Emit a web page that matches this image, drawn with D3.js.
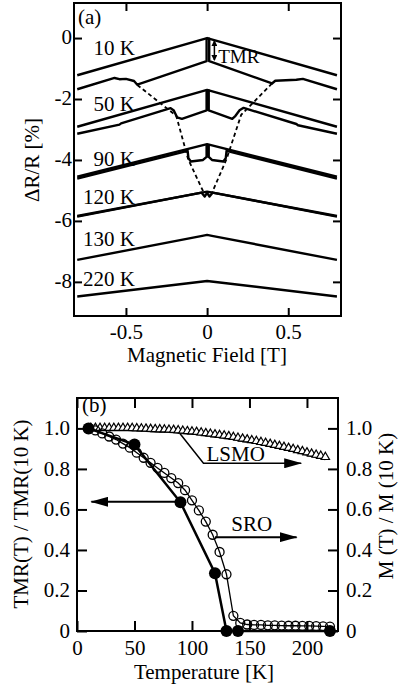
<!DOCTYPE html>
<html lang="en">
<head>
  <meta charset="UTF-8">
  <title>TMR vs field and temperature</title>
  <style>
    body { margin: 0; background: #fff; }
    svg { display: block; }
    text { font-family: "Liberation Serif", "Times New Roman", serif; fill: #000; }
  </style>
</head>
<body>
<script src="https://cdn.jsdelivr.net/npm/d3@7/dist/d3.min.js"></script>
<script>
// ---- panel (a) data: [field (T), dR/R (%)] ----
const up10 = [[-0.80,-1.22],[0,0],[0.80,-1.22]];
const lo10 = [[-0.80,-1.68],[-0.57,-1.31],[-0.54,-1.35],[-0.50,-1.34],[-0.45,-1.41],[-0.43,-1.53],
              [-0.003,-0.76],[-0.003,-0.02],[0.013,-0.02],[0.013,-0.76],
              [0.40,-1.49],[0.42,-1.40],[0.55,-1.37],[0.59,-1.34],[0.80,-1.68]];
const up50 = [[-0.80,-2.91],[0,-1.70],[0.80,-2.91]];
const lo50 = [[-0.80,-3.14],[-0.54,-2.84],[-0.53,-2.80],[-0.225,-2.30],[-0.205,-2.38],[-0.185,-2.60],[-0.155,-2.65],
              [-0.003,-2.37],[-0.003,-1.72],[0.010,-1.72],[0.010,-2.37],
              [0.155,-2.65],[0.175,-2.55],[0.20,-2.37],[0.225,-2.29],[0.55,-2.82],[0.56,-2.86],[0.80,-3.14]];
const up90 = [[-0.80,-4.55],[0,-3.48],[0.80,-4.55]];
const lo90 = [[-0.80,-4.61],[-0.12,-3.70],[-0.115,-3.94],[-0.10,-4.05],[-0.025,-4.00],[-0.003,-3.90],
              [-0.003,-3.52],[0.010,-3.52],[0.010,-3.90],[0.03,-4.00],[0.10,-4.05],[0.115,-3.94],[0.12,-3.70],[0.80,-4.61]];
const up120 = [[-0.80,-5.84],[0,-5.04],[0.80,-5.84]];
const lo120 = [[-0.80,-5.86],[-0.035,-5.07],[-0.015,-5.20],[0,-5.08],[0.015,-5.20],[0.035,-5.07],[0.80,-5.86]];
const c130 = [[-0.80,-7.28],[-0.03,-6.49],[0,-6.46],[0.03,-6.49],[0.80,-7.28]];
const c220 = [[-0.80,-8.48],[0,-7.97],[0.80,-8.48]];
const dashL = [[-0.43,-1.54],[-0.19,-2.55],[-0.117,-3.97],[-0.02,-5.08]];
const dashR = [[0.40,-1.49],[0.21,-2.52],[0.12,-3.97],[0.03,-5.08]];

const tempLabels = ["10 K", "50 K", "90 K", "120 K", "130 K", "220 K"];
const tempLabelY = [-0.56, -2.39, -4.20, -5.44, -6.81, -8.13];
const fieldTicks = [-0.5, 0, 0.5];
const drTicks = [0, -2, -4, -6, -8];

// ---- panel (b) data ----
const tmrT   = [10, 50, 90, 120, 130, 140, 220];
const tmrVal = [1.0, 0.92, 0.635, 0.285, 0, 0, 0];

const sroT   = [10,16,22,28,34,40,46,52,58,64,70,76,82,88,94,100,106,112,118,124,130,136,142,148,154,160,166,172,178,184,190,196,202,208,214,220];
const sroVal = [1.0,0.99,0.975,0.96,0.945,0.925,0.905,0.88,0.855,0.83,0.805,0.78,0.755,0.73,0.695,0.645,0.595,0.54,0.475,0.39,0.28,0.075,0.04,0.032,0.03,0.03,0.028,0.028,0.027,0.026,0.026,0.025,0.025,0.024,0.023,0.022];

const lsmoT   = [12,16,20,24,28,32,36,40,44,48,52,56,60,64,68,72,76,80,84,88,92,96,100,104,108,112,116,120,124,128,132,136,140,144,148,152,156,160,164,168,172,176,180,184,188,192,196,200,204,208,212,216];
const lsmoVal = [0.99,0.99,0.99,0.99,0.99,0.99,0.99,0.99,0.99,0.989,0.988,0.987,0.986,0.985,0.984,0.983,0.982,0.981,0.98,0.978,0.976,0.974,0.972,0.97,0.967,0.964,0.961,0.958,0.955,0.952,0.949,0.945,0.941,0.937,0.933,0.929,0.925,0.92,0.916,0.911,0.906,0.901,0.896,0.891,0.886,0.88,0.875,0.869,0.863,0.857,0.852,0.846];

const tempTicks = [0, 50, 100, 150, 200];
const ratioTicks = [0, 0.2, 0.4, 0.6, 0.8, 1.0];

// ---- canvas ----
const svg = d3.select("body").append("svg")
  .attr("width", 399)
  .attr("height", 685);

const defs = svg.append("defs");
defs.append("marker")
    .attr("id", "headB")
    .attr("markerUnits", "userSpaceOnUse")
    .attr("viewBox", "0 0 18 10")
    .attr("markerWidth", 18).attr("markerHeight", 10)
    .attr("refX", 17).attr("refY", 5)
    .attr("orient", "auto")
  .append("path").attr("d", "M0,0L18,5L0,10Z").attr("fill", "#000");
defs.append("marker")
    .attr("id", "headS")
    .attr("markerUnits", "userSpaceOnUse")
    .attr("viewBox", "0 0 6 6")
    .attr("markerWidth", 6).attr("markerHeight", 6)
    .attr("refX", 5).attr("refY", 3)
    .attr("orient", "auto-start-reverse")
  .append("path").attr("d", "M0,0L6,3L0,6Z").attr("fill", "#000");

const fmt = d => d === 0 ? "0" : String(d).replace("\u2212", "-");

function styleAxis(g, size) {
  g.attr("font-family", "Liberation Serif, Times New Roman, serif").attr("font-size", size);
  g.select(".domain").remove();
  g.selectAll(".tick line").attr("stroke", "#000").attr("stroke-width", 2);
  g.selectAll(".tick text").attr("fill", "#000");
}

// ================= panel (a) =================
const xA = d3.scaleLinear().domain([-0.82, 0.825]).range([74, 341]);
const yA = d3.scaleLinear().domain([-9.12, 1.15]).range([316, 3]);

const gA = svg.append("g");
gA.append("g").attr("transform", "translate(0,316)")
  .call(d3.axisBottom(xA).tickValues(fieldTicks).tickSize(-8).tickPadding(8).tickFormat(fmt))
  .call(g => styleAxis(g, 21));
gA.append("g").attr("transform", "translate(0,3)")
  .call(d3.axisTop(xA).tickValues(fieldTicks).tickSize(-8).tickFormat(""))
  .call(g => styleAxis(g, 21));
gA.append("g").attr("transform", "translate(74,0)")
  .call(d3.axisLeft(yA).tickValues(drTicks).tickSize(-8).tickPadding(2).tickFormat(fmt))
  .call(g => styleAxis(g, 21))
  .selectAll(".tick text").attr("dy", "0.25em");
gA.append("g").attr("transform", "translate(341,0)")
  .call(d3.axisRight(yA).tickValues(drTicks).tickSize(-8).tickFormat(""))
  .call(g => styleAxis(g, 21));

gA.append("rect")
  .attr("x", 74).attr("y", 3).attr("width", 267).attr("height", 313)
  .attr("fill", "none").attr("stroke", "#000").attr("stroke-width", 2);

const lineA = d3.line().x(d => xA(d[0])).y(d => yA(d[1]));

gA.append("g").selectAll("path")
  .data([dashL, dashR])
  .enter().append("path")
    .attr("d", lineA)
    .attr("fill", "none").attr("stroke", "#000")
    .attr("stroke-width", 1.8).attr("stroke-dasharray", "4,3");

gA.append("g").selectAll("path")
  .data([up10, lo10, up50, lo50, up90, lo90, up120, lo120, c130, c220])
  .enter().append("path")
    .attr("d", lineA)
    .attr("fill", "none").attr("stroke", "#000")
    .attr("stroke-width", 2.4).attr("stroke-linejoin", "round");

gA.append("g").selectAll("text")
  .data(tempLabels)
  .enter().append("text")
    .attr("x", xA(-0.445))
    .attr("y", (d, i) => yA(tempLabelY[i]))
    .attr("text-anchor", "end")
    .attr("font-size", 21)
    .text(d => d);

// TMR arrow
gA.append("line")
  .attr("x1", xA(0.045)).attr("x2", xA(0.045))
  .attr("y1", yA(-0.10)).attr("y2", yA(-0.72))
  .attr("stroke", "#000").attr("stroke-width", 1.5)
  .attr("marker-start", "url(#headS)").attr("marker-end", "url(#headS)");
gA.append("text")
  .attr("x", xA(0.068)).attr("y", yA(-0.82))
  .attr("font-size", 19)
  .text("TMR");

gA.append("text").attr("x", 78).attr("y", 24).attr("font-size", 21).text("(a)");
gA.append("text")
  .attr("transform", "translate(39,160) rotate(-90)")
  .attr("text-anchor", "middle").attr("font-size", 21)
  .text("\u0394R/R [%]");
gA.append("text")
  .attr("x", 207).attr("y", 362)
  .attr("text-anchor", "middle").attr("font-size", 21)
  .text("Magnetic Field [T]");

// ================= panel (b) =================
const xB = d3.scaleLinear().domain([0, 227]).range([77, 338]);
const yB = d3.scaleLinear().domain([0, 1.15]).range([631, 398]);

const gB = svg.append("g");
gB.append("g").attr("transform", "translate(0,631)")
  .call(d3.axisBottom(xB).tickValues(tempTicks).tickSize(-10).tickPadding(9).tickFormat(fmt))
  .call(g => styleAxis(g, 21));
gB.append("g").attr("transform", "translate(0,398)")
  .call(d3.axisTop(xB).tickValues(tempTicks).tickSize(-10).tickFormat(""))
  .call(g => styleAxis(g, 21));
gB.append("g").attr("transform", "translate(77,0)")
  .call(d3.axisLeft(yB).tickValues(ratioTicks).tickSize(-10).tickPadding(7).tickFormat(d => d === 0 ? "0" : d.toFixed(1)))
  .call(g => styleAxis(g, 21))
  .selectAll(".tick text").attr("dy", "0.3em");
gB.append("g").attr("transform", "translate(338,0)")
  .call(d3.axisRight(yB).tickValues(ratioTicks).tickSize(-10).tickPadding(8).tickFormat(d => d === 0 ? "0" : d.toFixed(1)))
  .call(g => styleAxis(g, 21))
  .selectAll(".tick text").attr("dy", "0.3em");

gB.append("rect")
  .attr("x", 77).attr("y", 398).attr("width", 261).attr("height", 233)
  .attr("fill", "none").attr("stroke", "#000").attr("stroke-width", 2);

const lineB = d3.line().x(d => xB(d[0])).y(d => yB(d[1]));
const lsmo = lsmoT.map((t, i) => [t, lsmoVal[i]]);
const sro = sroT.map((t, i) => [t, sroVal[i]]);
const tmr = tmrT.map((t, i) => [t, tmrVal[i]]);

// LSMO triangles
gB.append("path").attr("d", lineB(lsmo))
  .attr("fill", "none").attr("stroke", "#000").attr("stroke-width", 1.6);
gB.append("g").selectAll("path")
  .data(lsmo)
  .enter().append("path")
    .attr("d", d3.symbol().type(d3.symbolTriangle).size(30))
    .attr("transform", d => `translate(${xB(d[0])},${yB(d[1]) - 2.5})`)
    .attr("fill", "#fff").attr("stroke", "#000").attr("stroke-width", 1.2);

// SRO open circles
gB.append("path").attr("d", lineB(sro))
  .attr("fill", "none").attr("stroke", "#000").attr("stroke-width", 1.3);
gB.append("g").selectAll("circle")
  .data(sro)
  .enter().append("circle")
    .attr("cx", d => xB(d[0])).attr("cy", d => yB(d[1]))
    .attr("r", 4.5)
    .attr("fill", "none").attr("stroke", "#000").attr("stroke-width", 1.3);

// TMR filled circles
gB.append("path").attr("d", lineB(tmr))
  .attr("fill", "none").attr("stroke", "#000").attr("stroke-width", 2.5);
gB.append("g").selectAll("circle")
  .data(tmr)
  .enter().append("circle")
    .attr("cx", d => xB(d[0])).attr("cy", d => yB(d[1]))
    .attr("r", 6)
    .attr("fill", "#000");

// annotations
const arrows = [
  [[87, 0.638], [12.5, 0.638]],
  [[120, 0.463], [191, 0.463]],
  [[89.5, 0.975], [110, 0.828], [195, 0.828]]
];
gB.append("g").selectAll("path")
  .data(arrows)
  .enter().append("path")
    .attr("d", lineB)
    .attr("fill", "none").attr("stroke", "#000")
    .attr("stroke-width", (d, i) => i === 2 ? 1.5 : 2)
    .attr("marker-end", "url(#headB)");

gB.append("text").attr("x", xB(138)).attr("y", yB(0.84))
  .attr("text-anchor", "middle").attr("font-size", 21).text("LSMO");
gB.append("text").attr("x", xB(152)).attr("y", yB(0.494))
  .attr("text-anchor", "middle").attr("font-size", 21).text("SRO");

gB.append("text").attr("x", 82).attr("y", 412).attr("font-size", 21).text("(b)");
gB.append("text")
  .attr("transform", "translate(28,514) rotate(-90)")
  .attr("text-anchor", "middle").attr("font-size", 21)
  .text("TMR(T) / TMR(10 K)");
gB.append("text")
  .attr("transform", "translate(393,506) rotate(-90)")
  .attr("text-anchor", "middle").attr("font-size", 21)
  .text("M (T) / M (10 K)");
gB.append("text")
  .attr("x", 204).attr("y", 679)
  .attr("text-anchor", "middle").attr("font-size", 21)
  .text("Temperature [K]");
</script>
</body>
</html>
